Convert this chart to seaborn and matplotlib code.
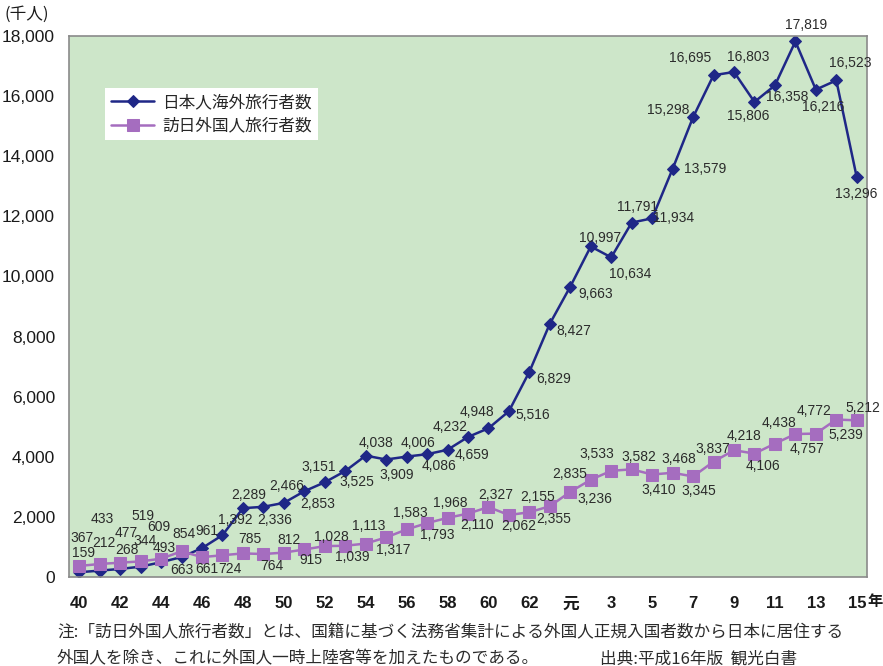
import matplotlib
matplotlib.use("Agg")
import matplotlib.pyplot as plt
import seaborn as sns
import pandas as pd
import numpy as np
from matplotlib.ticker import MultipleLocator, FuncFormatter

# 昭和40年〜平成15年 (千人)
years = [f"S{y}" for y in range(40, 64)] + [f"H{y}" for y in range(1, 16)]
tick_labels = ["40", "42", "44", "46", "48", "50", "52", "54", "56", "58", "60", "62",
               "元", "3", "5", "7", "9", "11", "13", "15"]

outbound = [159, 212, 268, 344, 493, 663, 961, 1392, 2289, 2336, 2466, 2853, 3151,
            3525, 4038, 3909, 4006, 4086, 4232, 4659, 4948, 5516, 6829, 8427, 9663,
            10997, 10634, 11791, 11934, 13579, 15298, 16695, 16803, 15806, 16358,
            17819, 16216, 16523, 13296]
inbound = [367, 433, 477, 519, 609, 854, 661, 724, 785, 764, 812, 915, 1028, 1039,
           1113, 1317, 1583, 1793, 1968, 2110, 2327, 2062, 2155, 2355, 2835, 3236,
           3533, 3582, 3410, 3468, 3345, 3837, 4218, 4106, 4438, 4757, 4772, 5239,
           5212]

series_out = "日本人海外旅行者数"
series_in = "訪日外国人旅行者数"

# label offsets (pixels, x right / y down) for each data label
off_out = [(4, -19), (4, -28), (7, -19), (4, -26), (3, -14), (0, 13), (5, -17),
           (13, -15), (6, -13), (11, 13), (3, -17), (13, 13), (-6, -15), (12, 11),
           (10, -13), (11, 15), (11, -14), (12, 12), (3, -23), (4, 18), (-12, -16),
           (24, 4), (24, 7), (24, 7), (25, 7), (9, -8), (19, 17), (6, -16), (21, 0),
           (33, 0), (-25, -7), (-23, -17), (14, -15), (-6, 14), (12, 12), (11, -16),
           (7, 17), (14, -17), (-1, 17)]
off_in = [(3, -28), (3, -45), (6, -30), (2, -45), (-2, -32), (2, -17), (5, 12),
          (7, 14), (7, -14), (8, 12), (5, -13), (7, 11), (7, -9), (7, 11), (3, -18),
          (7, 13), (4, -16), (10, 12), (3, -15), (9, 11), (7, -12), (10, 11), (8, -15),
          (4, 13), (-1, -18), (4, 19), (-14, -17), (7, -12), (7, 15), (6, -14),
          (6, 15), (-1, -13), (10, -14), (8, 12), (4, -21), (12, 15), (-2, -23),
          (10, 15), (6, -12)]

n = len(years)
df = pd.DataFrame({
    "idx": list(range(n)) * 2,
    "value": outbound + inbound,
    "series": [series_out] * n + [series_in] * n,
})

sns.set_style("white")
plt.rcParams["font.family"] = ["Liberation Sans", "Noto Sans CJK JP", "DejaVu Sans"]

W, H = 883, 666
fig = plt.figure(figsize=(W / 100, H / 100), dpi=100)
fig.patch.set_facecolor("white")
ax = fig.add_axes([69 / W, 1 - 577 / H, (867 - 69) / W, (577 - 36) / H])
ax.set_facecolor("#cde6c9")

c_out = "#1f2787"
c_in = "#a56dbf"

sns.lineplot(data=df[df.series == series_out], x="idx", y="value", ax=ax,
             color=c_out, lw=1.8, marker="D", markersize=6.5,
             markeredgecolor=c_out, label=series_out)
sns.lineplot(data=df[df.series == series_in], x="idx", y="value", ax=ax,
             color=c_in, lw=1.8, marker="s", markersize=8,
             markeredgecolor=c_in, label=series_in)

ax.set_xlim(-0.5, n - 0.5)
ax.set_ylim(0, 18000)
ax.set_xlabel("")
ax.set_ylabel("")

ax.yaxis.set_major_locator(MultipleLocator(2000))
ax.yaxis.set_major_formatter(FuncFormatter(lambda v, p: f"{int(v):,}"))
ax.tick_params(axis="y", direction="in", length=4, width=0.8, color="#777777",
               labelsize=12.5, labelcolor="#1a1a1a", pad=10)

ax.set_xticks(list(range(0, n, 2)))
ax.set_xticklabels(tick_labels)
ax.tick_params(axis="x", which="major", length=0, labelsize=12,
               labelcolor="#1a1a1a", pad=14)
for t in ax.get_xticklabels():
    t.set_fontweight("bold")
ax.set_xticks(np.arange(0.5, n - 1, 1.0), minor=True)
ax.tick_params(axis="x", which="minor", direction="in", length=4, width=0.8,
               color="#777777")

for s in ax.spines.values():
    s.set_color("#8a8a8a")
    s.set_linewidth(1.2)

def add_labels(vals, offs):
    for i, (v, (dx, dy)) in enumerate(zip(vals, offs)):
        ax.annotate(f"{v:,}", (i, v), xytext=(dx * 0.72, -dy * 0.72),
                    textcoords="offset points", ha="center", va="center",
                    fontsize=10, color="#2b2b2b", annotation_clip=False)

add_labels(outbound, off_out)
add_labels(inbound, off_in)

leg = ax.legend(loc="upper left", bbox_to_anchor=(105 / W, 1 - 88 / H),
                bbox_transform=fig.transFigure, borderaxespad=0,
                frameon=True, fancybox=False, framealpha=1, edgecolor="none",
                facecolor="white", handlelength=2.6,
                handletextpad=0.5, borderpad=0.35, labelspacing=0.4,
                prop={"family": ["Noto Sans CJK JP"], "size": 12})

fig.text(5 / W, 1 - 14 / H, "(千人)", fontsize=12, color="#1a1a1a",
         family=["Noto Sans CJK JP"], ha="left", va="center")
fig.text(875 / W, 1 - 601 / H, "年", fontsize=11, color="#1a1a1a",
         family=["Noto Sans CJK JP"], ha="center", va="center", fontweight="bold")

note1 = "注:「訪日外国人旅行者数」とは、国籍に基づく法務省集計による外国人正規入国者数から日本に居住する"
note2 = "外国人を除き、これに外国人一時上陸客等を加えたものである。"
src = "出典:平成16年版  観光白書"
fig.text(57 / W, 1 - 633 / H, note1, fontsize=12, color="#2b2b2b",
         family=["Noto Sans CJK JP"], ha="left", va="center")
fig.text(57 / W, 1 - 659 / H, note2, fontsize=12, color="#2b2b2b",
         family=["Noto Sans CJK JP"], ha="left", va="center")
fig.text(600 / W, 1 - 659 / H, src, fontsize=12, color="#2b2b2b",
         family=["Noto Sans CJK JP"], ha="left", va="center")

fig.savefig("out.png", dpi=100)
